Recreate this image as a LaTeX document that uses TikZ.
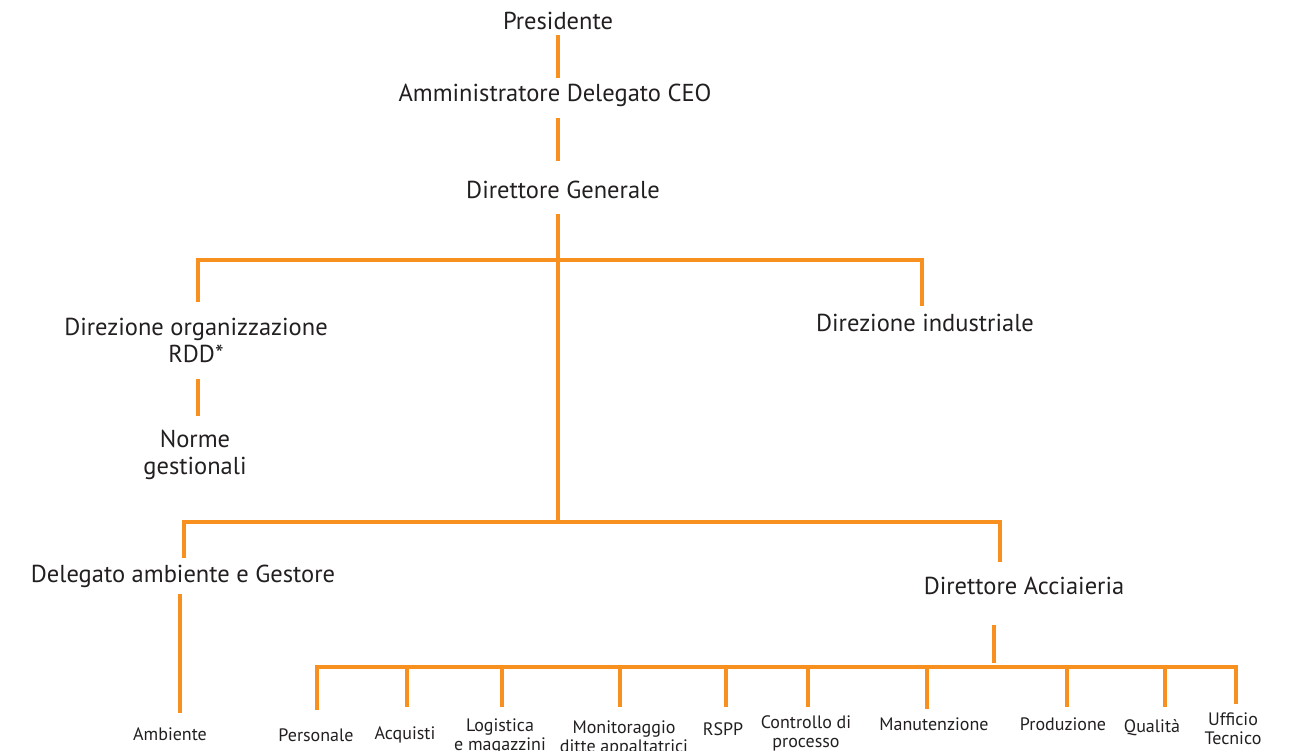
\documentclass[tikz,border=0pt]{standalone}
\usepackage{fontspec}
\setmainfont{PT Sans}
\definecolor{org}{HTML}{F7901E}
\definecolor{txt}{HTML}{231F20}
\begin{document}
\begin{tikzpicture}[x=1pt,y=-1pt,
  conn/.style={draw=org,line width=3.6pt},
  big/.style={text=txt,font=\fontsize{24.5}{27}\selectfont,align=center,inner sep=0pt},
  small/.style={text=txt,font=\fontsize{18}{19}\selectfont,align=center,inner sep=0pt}]
\useasboundingbox (0,0) rectangle (1291,751);
\clip (0,0) rectangle (1291,751);
% text nodes
\node[big] (pres) at (558,21) {Presidente};
\node[big] (ceo) at (555,95) {Amministratore Delegato CEO};
\node[big] (dg) at (563,190) {Direttore Generale};
\node[big] (dorg) at (196,340) {Direzione organizzazione\\RDD*};
\node[big] (dind) at (925,323) {Direzione industriale};
\node[big] (norme) at (195,455) {Norme\\gestionali};
\node[big] (deleg) at (183,576) {Delegato ambiente e Gestore};
\node[big] (dacc) at (1024,586) {Direttore Acciaieria};
\node[small] (amb) at (170,734) {Ambiente};
\node[small] (pers) at (316,735) {Personale};
\node[small] (acq) at (405,735) {Acquisti};
\node[small] (log) at (500,737) {Logistica\\e magazzini};
\node[small] (mon) at (624,738) {Monitoraggio\\ditte appaltatrici};
\node[small] (rspp) at (723,729) {RSPP};
\node[small] (ctrl) at (806,733) {Controllo di\\processo};
\node[small] (man) at (934,724) {Manutenzione};
\node[small] (prod) at (1063,724) {Produzione};
\node[small] (qual) at (1152,728) {Qualità};
\node[small] (uff) at (1233,729) {Ufficio\\Tecnico};
% connectors
\draw[conn] (558,35) coordinate (p1) -- (558,78) coordinate (p2);
\draw[conn] (558,118) coordinate (c1) -- (558,161) coordinate (c2);
\draw[conn] (558,214) coordinate (t0) -- (558,522) coordinate (t1);
\draw[conn] (198,302) coordinate (l1) -- (198,260) coordinate (h1) -- (922,260) coordinate (h2) -- (922,306) coordinate (r1);
\draw[conn] (198,379) coordinate (o1) -- (198,416) coordinate (o2);
\draw[conn] (184,558) coordinate (l2) -- (184,522) coordinate (h3) -- (1000,522) coordinate (h4) -- (1000,562) coordinate (r2);
\draw[conn] (180,594) coordinate (a1) -- (180,713) coordinate (a2);
\draw[conn] (994,625) coordinate (d1) -- (994,663) coordinate (d2);
\draw[conn] (317,710) coordinate (b1) -- (317,667) coordinate (hb1) -- (1236,667) coordinate (hb2) -- (1236,704) coordinate (b10);
\foreach \x/\y in {407/707,502/707,620/707,726/707,808/707,927/709,1067/707,1165/707}
  \draw[conn] (\x,667) -- (\x,\y);
\end{tikzpicture}
\end{document}
